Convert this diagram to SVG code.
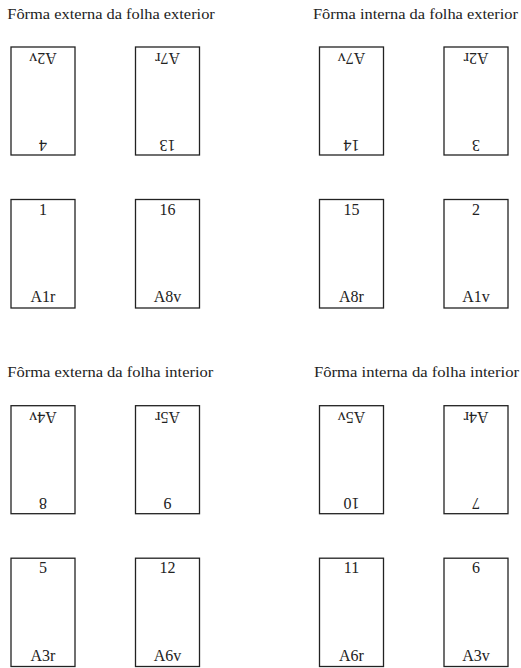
<svg xmlns="http://www.w3.org/2000/svg" width="521" height="668" viewBox="0 0 521 668">
<style>
text{font-family:"Liberation Serif","Times New Roman",serif;font-size:16px;fill:#222}
.t{font-size:15.5px}
.p rect{fill:#fff;stroke:#222;stroke-width:1.3}
.p text{text-anchor:middle}
</style>
<rect width="521" height="668" fill="#fff"/>
<g id="q1">
<text class="t" x="7.3" y="18.5" textLength="207.5" lengthAdjust="spacingAndGlyphs">Fôrma externa da folha exterior</text>
<g id="p4" class="p" transform="rotate(180 43 101)"><rect x="11" y="47" width="64" height="108"/><text x="43" y="62.5">4</text><text x="43" y="149">A2v</text></g>
<g id="p13" class="p" transform="rotate(180 167.5 101)"><rect x="135.5" y="47" width="64" height="108"/><text x="167.5" y="62.5">13</text><text x="167.5" y="149">A7r</text></g>
<g id="p1" class="p"><rect x="11" y="199.5" width="64" height="108.5"/><text x="43" y="214.5">1</text><text x="43" y="302">A1r</text></g>
<g id="p16" class="p"><rect x="135.5" y="199.5" width="64" height="108.5"/><text x="167.5" y="214.5">16</text><text x="167.5" y="302">A8v</text></g>
</g>
<g id="q2">
<text class="t" x="313" y="18.5" textLength="205" lengthAdjust="spacingAndGlyphs">Fôrma interna da folha exterior</text>
<g id="p14" class="p" transform="rotate(180 351.5 101)"><rect x="319.5" y="47" width="64" height="108"/><text x="351.5" y="62.5">14</text><text x="351.5" y="149">A7v</text></g>
<g id="p3" class="p" transform="rotate(180 476 101)"><rect x="444" y="47" width="64" height="108"/><text x="476" y="62.5">3</text><text x="476" y="149">A2r</text></g>
<g id="p15" class="p"><rect x="319.5" y="199.5" width="64" height="108.5"/><text x="351.5" y="214.5">15</text><text x="351.5" y="302">A8r</text></g>
<g id="p2" class="p"><rect x="444" y="199.5" width="64" height="108.5"/><text x="476" y="214.5">2</text><text x="476" y="302">A1v</text></g>
</g>
<g id="q3">
<text class="t" x="7.3" y="376.7" textLength="206" lengthAdjust="spacingAndGlyphs">Fôrma externa da folha interior</text>
<g id="p8" class="p" transform="rotate(180 43 459.7)"><rect x="11" y="405.7" width="64" height="108"/><text x="43" y="421.2">8</text><text x="43" y="507.7">A4v</text></g>
<g id="p9" class="p" transform="rotate(180 167.5 459.7)"><rect x="135.5" y="405.7" width="64" height="108"/><text x="167.5" y="421.2">9</text><text x="167.5" y="507.7">A5r</text></g>
<g id="p5" class="p"><rect x="11" y="558.2" width="64" height="108.3"/><text x="43" y="573.2">5</text><text x="43" y="660.5">A3r</text></g>
<g id="p12" class="p"><rect x="135.5" y="558.2" width="64" height="108.3"/><text x="167.5" y="573.2">12</text><text x="167.5" y="660.5">A6v</text></g>
</g>
<g id="q4">
<text class="t" x="314" y="376.7" textLength="205" lengthAdjust="spacingAndGlyphs">Fôrma interna da folha interior</text>
<g id="p10" class="p" transform="rotate(180 351.5 459.7)"><rect x="319.5" y="405.7" width="64" height="108"/><text x="351.5" y="421.2">10</text><text x="351.5" y="507.7">A5v</text></g>
<g id="p7" class="p" transform="rotate(180 476 459.7)"><rect x="444" y="405.7" width="64" height="108"/><text x="476" y="421.2">7</text><text x="476" y="507.7">A4r</text></g>
<g id="p11" class="p"><rect x="319.5" y="558.2" width="64" height="108.3"/><text x="351.5" y="573.2">11</text><text x="351.5" y="660.5">A6r</text></g>
<g id="p6" class="p"><rect x="444" y="558.2" width="64" height="108.3"/><text x="476" y="573.2">6</text><text x="476" y="660.5">A3v</text></g>
</g>
<g id="connectors"/>
</svg>
